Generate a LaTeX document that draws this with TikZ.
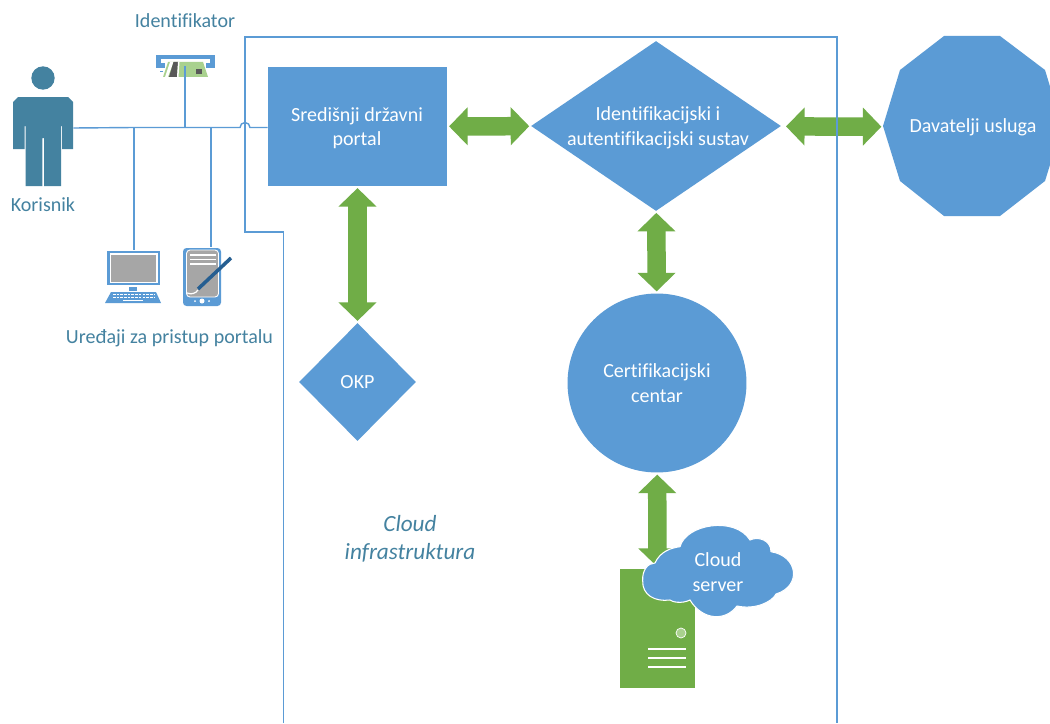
\documentclass[tikz,border=0pt]{standalone}
\usepackage{fontspec}
\setmainfont[Ligatures=CommonOff]{Carlito}
\usepackage{tikz}
\usetikzlibrary{shapes,arrows.meta,positioning,calc}
\definecolor{boxBlue}{RGB}{91, 155, 213}
\definecolor{darkTeal}{RGB}{68, 130, 160}
\definecolor{serverGreen}{RGB}{112, 173, 71}
\definecolor{lightGreen}{RGB}{169, 209, 142}
\definecolor{screenGrey}{RGB}{166, 166, 166}
\definecolor{penBlue}{RGB}{37, 94, 145}
\definecolor{stripGrey}{RGB}{89, 89, 89}

\begin{document}
\begin{tikzpicture}[x=0.02cm,y=-0.02cm,
                box/.style={fill=boxBlue,text=white,align=center,font=\fontsize{11.4}{14}\selectfont,inner sep=0pt},
                boxtext/.style={text=white,align=center,font=\fontsize{11.4}{14}\selectfont,inner sep=0pt},
                caption/.style={text=darkTeal,align=center,font=\fontsize{11.4}{14}\selectfont,inner sep=0pt},
                wire/.style={draw=boxBlue,line width=0.8pt},
                frameline/.style={draw=boxBlue,line width=0.7pt},
                bigarrow/.style={draw=serverGreen,line width=0.37cm,{Triangle[length=0.37cm,width=0.74cm]}-{Triangle[length=0.37cm,width=0.74cm]},shorten <=1pt,shorten >=1pt}
            ]
                \clip (0,0) rectangle (1050,723);
                \fill[white] (0,0) rectangle (1050,723);

                % main blocks
                \node[box,rectangle,minimum width=3.58cm,minimum height=2.38cm] (portal) at (357.5,126.5) {};
                \node[boxtext] (portaltext) at (357,128) {Središnji državni\\portal};
                \node[box,diamond,minimum width=5cm,minimum height=3.4cm] (sustav) at (656,126) {};
                \node[boxtext] (sustavtext) at (658,128) {Identifikacijski i\\autentifikacijski sustav};
                \node[box,diamond,minimum width=2.34cm,minimum height=2.36cm] (okp) at (357.5,382) {OKP};
                \node[box,circle,minimum size=3.58cm] (centar) at (657,383) {Certifikacijski\\centar};

                % service providers
                \fill[boxBlue] (944,36) -- (1000,36) -- (1045,70) -- (1062,126) -- (1045,181) -- (1000,216) -- (944,216) -- (900,181) -- (883,126) -- (900,70) -- cycle;
                \node[boxtext,minimum width=3.58cm,minimum height=3.6cm] (davatelji) at (973,127) {Davatelji usluga};

                % server
                \node[fill=serverGreen,minimum width=1.5cm,minimum height=2.38cm,inner sep=0pt] (server) at (657.5,628.5) {};
                \fill[lightGreen,draw=white,line width=0.4pt] (681,633) circle (5);
                \foreach \y in {649,658,667} {
                    \draw[white,line width=1.2pt] (648,\y) -- (686,\y);
                }

                % arrows
                \draw[bigarrow] (portal) -- (sustav);
                \draw[bigarrow,shorten <=3pt] (sustav) -- (davatelji);
                \draw[bigarrow] (portal) -- (okp);
                \draw[bigarrow] (sustav) -- (centar);
                \draw[bigarrow] (centar) -- (server);

                % cloud frame
                \draw[frameline] (283.5,723) -- (283.5,232) -- (245,232) -- (245,37) -- (837,37) -- (837,723);

                % cloud in front of server
                \fill[boxBlue,draw=white,line width=0.6pt] (642.7,580.7) .. controls (642,570) and (648,563) .. (655,563)
                    .. controls (660,552) and (670,548) .. (680,546.7)
                    .. controls (686,524) and (735,516) .. (750,540)
                    .. controls (758,536) and (771,540) .. (771,551.7)
                    .. controls (798,556) and (802,586) .. (776,594)
                    .. controls (772,602) and (755,610) .. (737,606)
                    .. controls (725,622) and (702,620) .. (690,600)
                    .. controls (682,604) and (672,602) .. (670,600)
                    .. controls (655,602) and (642,595) .. (642.7,580.7) -- cycle;
                \node[boxtext] (oblaktext) at (718,572) {Cloud\\server};

                % user
                \fill[darkTeal] (43,78) circle (11.7);
                \fill[darkTeal] (18,97) -- (68,97) -- (73,102) -- (73,149) -- (62,149) -- (62,126) -- (61,126) -- (61,186) -- (44,186) -- (44,138) -- (42.3,138) -- (42.3,186) -- (25.7,186) -- (25.7,126) -- (24.5,126) -- (24.5,149) -- (13,149) -- (13,102) -- cycle;
                \node[inner sep=0pt,minimum width=1.2cm,minimum height=0.2cm] (korisnik) at (43,128) {};
                \node[caption] (korisniktext) at (43,205) {Korisnik};

                % devices
                \coordinate (racunalo) at (134,250);
                \coordinate (tablet) at (211,247);
                \coordinate (kartica) at (185,66);
                \coordinate (spoj1) at (134,127.5);
                \coordinate (spoj2) at (185,127.5);
                \coordinate (spoj3) at (211,127.5);

                % computer
                \fill[boxBlue] (107,251) rectangle (160,285);
                \fill[white] (109.5,253) rectangle (157.5,283);
                \fill[screenGrey] (111,254.5) rectangle (156,281.5);
                \fill[boxBlue] (129,287) rectangle (137,291);
                \fill[boxBlue] (111,292) -- (156,292) -- (161,303) -- (105,303) -- cycle;
                \foreach \y in {294.5,297.5} {
                    \draw[white,line width=0.6pt,dash pattern=on 1.5pt off 0.6pt] (113,\y) -- (154,\y);
                }
                \draw[white,line width=0.6pt] (123,300.8) -- (143,300.8);

                % tablet
                \fill[boxBlue,rounded corners=2pt] (183,248) rectangle (221,306);
                \fill[screenGrey,draw=white,line width=0.5pt,rounded corners=2pt] (186.5,250) rectangle (218.5,297);
                \foreach \y in {255,259.5,264} {
                    \draw[white,line width=1.1pt] (190,\y) -- (216,\y);
                }
                \draw[white,line width=0.7pt] (187,293) .. controls (192,295) and (196,293) .. (198,290);
                \draw[penBlue,line width=2pt] (198,289) -- (231,258);
                \fill[white] (202,301) circle (2.5);
                \fill[white] (195,301) circle (1);
                \fill[white] (209,301) circle (1);

                % card reader
                \fill[boxBlue] (156,55) rectangle (215,68);
                \fill[white] (161,59) rectangle (210,63);
                \fill[white] (165,63) rectangle (206,68);
                \fill[lightGreen] (168,62) -- (203,62) -- (208,77) -- (163,77) -- cycle;
                \fill[white] (170,62) -- (173.5,62) -- (168,77) -- (165,77) -- cycle;
                \fill[stripGrey] (173.5,62) -- (178,62) -- (177,77) -- (169,77) -- cycle;
                \fill[white] (178,62) -- (179.5,62) -- (178.5,77) -- (177,77) -- cycle;
                \fill[stripGrey] (196,69) rectangle (202,74);
                \fill[boxBlue] (159.5,71) rectangle (163,72.5);

                % wires
                \draw[wire] (korisnik.east) -- (spoj1) -- (spoj2) -- (spoj3) -- (240,127.5) arc[start angle=180,end angle=360,radius=5] -- (portal.west |- spoj1);
                \draw[wire] (spoj1) -- (racunalo);
                \draw[wire] (spoj2) -- (kartica);
                \draw[wire] (spoj3) -- (tablet);

                % labels
                \node[caption] (identifikator) at (185,21) {Identifikator};
                \node[caption] (uredjaji) at (169.5,338) {Uređaji za pristup portalu};
                \node[caption,font=\fontsize{13.2}{16}\selectfont\itshape] (infrastruktura) at (410,539) {Cloud\\infrastruktura};
            \end{tikzpicture}
\end{document}
